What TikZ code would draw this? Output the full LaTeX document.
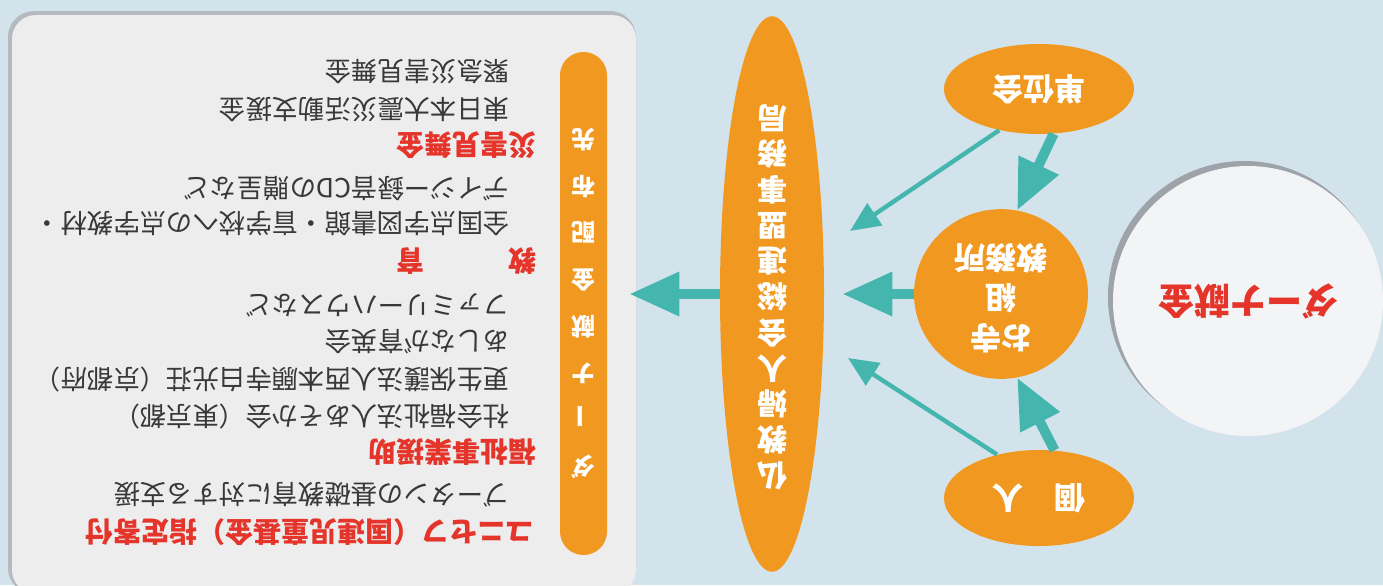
\documentclass[tikz,border=0pt]{standalone}
\usepackage{fontspec}
\usepackage{graphicx}
\newfontfamily\jp{Noto Sans CJK JP}
\usetikzlibrary{shapes.geometric,arrows.meta}
\definecolor{bgblue}{HTML}{D3E3EC}
\definecolor{panelc}{HTML}{EDEDEE}
\definecolor{pshadow}{HTML}{B5BABF}
\definecolor{orng}{HTML}{F0981F}
\definecolor{tealc}{HTML}{44B6AE}
\definecolor{redt}{HTML}{E5352B}
\definecolor{txtc}{HTML}{383838}
\definecolor{circc}{HTML}{F3F4F5}
\definecolor{cshadow}{HTML}{9DA3A8}
\newcommand\flip[1]{\rotatebox[origin=c]{180}{#1}}
\newcommand\vstk[1]{\begin{tabular}{@{}c@{}}#1\end{tabular}}
\tikzset{
  orangeoval/.style={ellipse, fill=orng, inner sep=0pt, text=white},
  listline/.style={anchor=east, inner sep=0pt, text=txtc, font=\jp\fontsize{13.2}{15}\selectfont},
  heading/.style={anchor=east, inner sep=0pt, text=redt, font=\jp\bfseries\fontsize{14}{16}\selectfont},
  thickarrow/.style={draw=tealc, line width=5pt, -{Triangle[length=25pt,width=21pt]}},
  thinarrow/.style={draw=tealc, line width=2.2pt, -{Triangle[length=15pt,width=13pt]}}
}
\begin{document}
\begin{tikzpicture}[x=0.5pt,y=-0.5pt]
\useasboundingbox (0,0) rectangle (1383,585);
\fill[bgblue] (0,0) rectangle (1383,585);
% left panel
\fill[pshadow, rounded corners=13pt] (8,11) rectangle (636,594);
\fill[panelc, rounded corners=12pt] (12,15) rectangle (636,594);
% list text
\node[listline] (l1) at (510,72) {\flip{緊急災害見舞金}};
\node[listline] (l2) at (510,109) {\flip{東日本大震災活動支援金}};
\node[heading] (h1) at (537,145) {\flip{災害見舞金}};
\node[listline] (l3) at (510,189) {\flip{デイジー録音CDの贈呈など}};
\node[listline] (l4) at (510,224) {\flip{全国点字図書館・盲学校への点字教材・}};
\node[heading] (h2) at (537,261) {\flip{教\hspace{3em}育}};
\node[listline] (l5) at (510,305) {\flip{ファミリーハウスなど}};
\node[listline] (l6) at (510,342) {\flip{あしなが育英会}};
\node[listline] (l7) at (510,380) {\flip{更生保護法人西本願寺白光荘（京都府）}};
\node[listline] (l8) at (510,417) {\flip{社会福祉法人あそか会（東京都）}};
\node[heading] (h3) at (537,452) {\flip{福祉事業援助}};
\node[listline] (l9) at (510,495) {\flip{ブータンの基礎教育に対する支援}};
\node[heading] (h4) at (534,532) {\flip{ユニセフ（国連児童基金）指定寄付}};
% orange bar
\node[rectangle, fill=orng, rounded corners=11.7pt, minimum width=23.5pt, minimum height=251.5pt, inner sep=0pt, text=white,
      font=\jp\bfseries\fontsize{12}{23.4}\selectfont] (bar) at (583.5,303.5)
      {\flip{\vstk{ダ\\\rotatebox[origin=c]{-90}{ー}\\ナ\\献\\金\\配\\布\\先}}};
% big ellipse
\node[orangeoval, minimum width=52pt, minimum height=236pt, font=\jp\bfseries\fontsize{15}{17.2}\selectfont] (big) at (772,294)
      {\flip{\vstk{仏\\教\\婦\\人\\会\\総\\連\\盟\\事\\務\\局}}};
% right ovals
\node[orangeoval, minimum width=95pt, minimum height=45pt, font=\jp\bfseries\fontsize{15.5}{18}\selectfont] (tani) at (1039,89) {\flip{単位会}};
\node[orangeoval, minimum width=87pt, minimum height=80pt, font=\jp\bfseries\fontsize{15.5}{20}\selectfont] (otera) at (1001,294) {\flip{\vstk{お寺\\組\\教務所}}};
\node[orangeoval, minimum width=95pt, minimum height=48pt, font=\jp\bfseries\fontsize{15.5}{18}\selectfont] (kojin) at (1039,498) {\flip{個　人}};
% white circle
\fill[cshadow] (1244,297) circle (68pt);
\node[circle, fill=circc, minimum size=135pt, inner sep=0pt, text=redt, font=\jp\bfseries\fontsize{18}{20}\selectfont] (dana) at (1248,301) {\flip{ダーナ献金}};
% arrows
\coordinate (tipA) at (850,231);
\coordinate (tipB) at (848,358);
\draw[thickarrow, shorten >=11pt] (big.west) -- (bar.east |- big.west);
\draw[thickarrow, shorten >=9pt] (otera.west) -- (big.east);
\draw[thickarrow] (tani.-72) -- (otera.79);
\draw[thickarrow] (kojin.72) -- (otera.-79);
\draw[thinarrow] (tani.-134) -- (tipA);
\draw[thinarrow] (kojin.134) -- (tipB);
\end{tikzpicture}
\end{document}
